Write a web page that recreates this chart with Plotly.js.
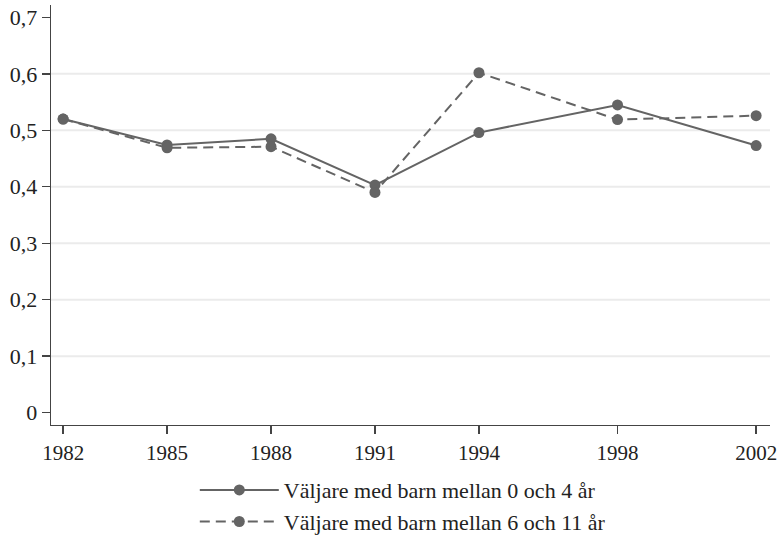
<!DOCTYPE html>
<html><head><meta charset="utf-8">
<script src="https://cdn.plot.ly/plotly-3.0.1.min.js"></script>
<style>html,body{margin:0;padding:0;background:#fff;}#chart{width:777px;height:537px;}</style>
</head><body><div id="chart"></div>
<script>
var years = [1982, 1985, 1988, 1991, 1994, 1998, 2002];
var series0to4 = [0.520, 0.474, 0.485, 0.403, 0.496, 0.545, 0.473];
var series6to11 = [0.520, 0.469, 0.471, 0.390, 0.602, 0.519, 0.526];
var seriesNames = ['Väljare med barn mellan 0 och 4 år', 'Väljare med barn mellan 6 och 11 år'];
var yTickVals = [0, 0.1, 0.2, 0.3, 0.4, 0.5, 0.6, 0.7];
var yTickText = ['0', '0,1', '0,2', '0,3', '0,4', '0,5', '0,6', '0,7'];
var gridVals = [0.1, 0.2, 0.3, 0.4, 0.5, 0.6];

var fontFam = 'Liberation Serif, DejaVu Serif, serif';
var col = '#646464';
var traces = [
  {x: years, y: series0to4, name: seriesNames[0], mode: 'lines+markers',
   line: {color: col, width: 2}, marker: {color: col, size: 11}},
  {x: years, y: series6to11, name: seriesNames[1], mode: 'lines+markers',
   line: {color: col, width: 2, dash: '10px,6px'}, marker: {color: col, size: 11}}
];
var shapes = gridVals.map(function(v){
  return {type: 'line', xref: 'paper', yref: 'y', x0: 0, x1: 1, y0: v, y1: v,
          line: {color: '#ebebeb', width: 2}, layer: 'below'};
});
var layout = {
  width: 777, height: 537,
  margin: {l: 51, r: 7, t: 5, b: 112, autoexpand: false},
  paper_bgcolor: '#fff', plot_bgcolor: '#fff',
  font: {family: fontFam, color: '#222', size: 21},
  showlegend: true,
  legend: {x: 0.2, xanchor: 'left', y: -0.105, yanchor: 'top', orientation: 'v',
           font: {size: 22, family: fontFam, color: '#222'}, itemwidth: 79,
           tracegroupgap: 0, bgcolor: 'rgba(0,0,0,0)'},
  xaxis: {range: [1981.65, 2002.4], tickvals: years, ticktext: years.map(String),
          showgrid: false, zeroline: false, showline: true, linecolor: '#444', linewidth: 1.3,
          ticks: 'outside', ticklen: 8, tickcolor: '#444', tickwidth: 1.3,
          ticklabeloverflow: 'allow', automargin: false,
          tickfont: {size: 21, family: fontFam, color: '#222'}},
  yaxis: {range: [-0.022, 0.722], tickvals: yTickVals, ticktext: yTickText,
          showgrid: false, zeroline: false, showline: true, linecolor: '#444', linewidth: 1.3,
          ticks: 'outside', ticklen: 8, tickcolor: '#444', tickwidth: 1.3, automargin: false,
          tickfont: {size: 22, family: fontFam, color: '#222'}},
  shapes: shapes
};
Plotly.newPlot('chart', traces, layout, {displayModeBar: false, staticPlot: true});
</script></body></html>
